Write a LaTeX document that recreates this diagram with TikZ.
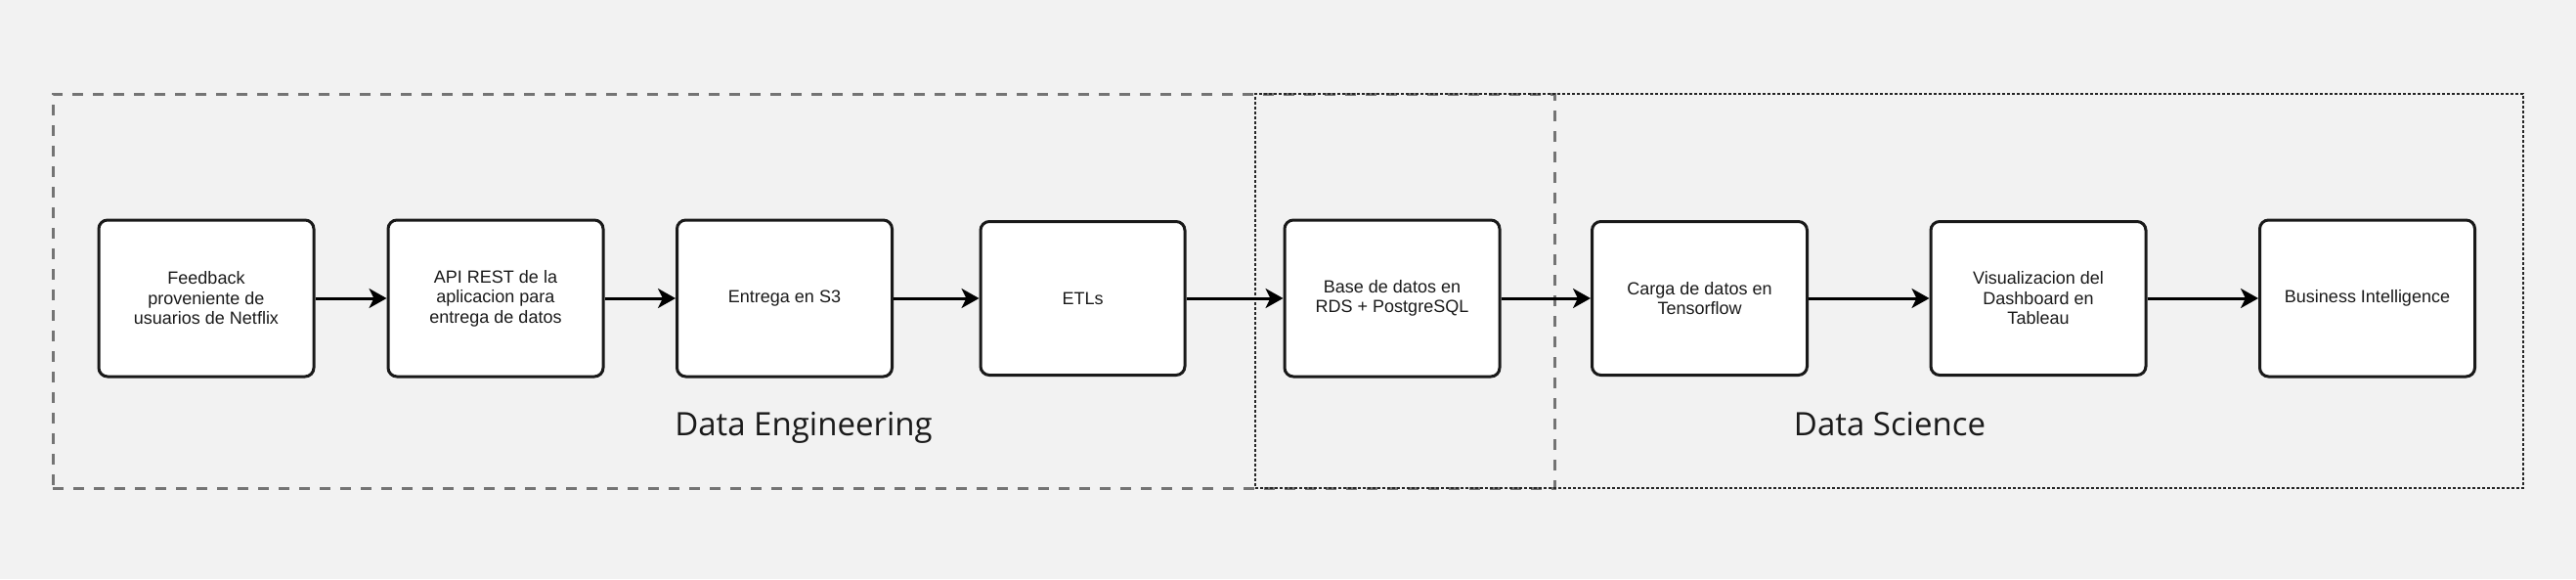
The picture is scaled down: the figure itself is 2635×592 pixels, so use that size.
\documentclass[tikz,border=0pt]{standalone}
\usepackage{fontspec}
\setmainfont{Liberation Sans}
\newfontfamily\grouplabelfont{Open Sans}
\usetikzlibrary{arrows.meta}
\definecolor{bgcol}{HTML}{F2F2F2}
\definecolor{dashcol}{HTML}{747474}
\definecolor{txtcol}{HTML}{1A1A1A}
\tikzset{
  procbox/.style={draw=black!90, fill=white, line width=3pt, rounded corners=9pt,
    minimum width=220pt, minimum height=160pt, align=center, text=txtcol,
    font=\fontsize{18}{20.5}\selectfont, inner sep=4pt},
  dashgroup/.style={draw=dashcol, line width=3pt, dash pattern=on 11pt off 10pt, inner sep=0pt},
  dotgroup/.style={draw=black!85, line width=2.6pt, dash pattern=on 2.6pt off 2.4pt, inner sep=0pt},
  grouplabel/.style={text=txtcol, anchor=base, font=\grouplabelfont\fontsize{33}{40}\selectfont},
  flow/.style={line width=3pt, -{Stealth[length=18pt, width=20pt, inset=5pt]}},
}
\begin{document}
\begin{tikzpicture}[x=1pt,y=-1pt]
\fill[bgcol] (0,0) rectangle (2635,592);
\useasboundingbox (0,0) rectangle (2635,592);
% groups
\node[dashgroup, minimum width=1536pt, minimum height=403pt] (de) at (822,297.5) {};
\node[dotgroup, minimum width=1297pt, minimum height=403pt] (ds) at (1932.5,297.5) {};
\node[grouplabel] (delabel) at (822,445) {Data Engineering};
\node[grouplabel] (dslabel) at (1933,445) {Data Science};
% process boxes
\node[procbox] (b1) at (211,305) {Feedback\\proveniente de\\usuarios de Netflix};
\node[procbox] (b2) at (507,305) {API REST de la\\aplicacion para\\entrega de datos};
\node[procbox] (b3) at (802.5,305) {Entrega en S3};
\node[procbox, minimum width=209pt, minimum height=157pt] (b4) at (1107.5,305) {ETLs};
\node[procbox] (b5) at (1424,305) {Base de datos en\\RDS + PostgreSQL};
\node[procbox, minimum height=157pt] (b6) at (1738.5,305) {Carga de datos en\\Tensorflow};
\node[procbox, minimum height=157pt] (b7) at (2085,305) {Visualizacion del\\Dashboard en\\Tableau};
\node[procbox] (b8) at (2421.5,305) {Business Intelligence};
% connectors
\draw[flow] (b1) -- (b2);
\draw[flow] (b2) -- (b3);
\draw[flow] (b3) -- (b4);
\draw[flow] (b4) -- (b5);
\draw[flow] (b5) -- (b6);
\draw[flow] (b6) -- (b7);
\draw[flow] (b7) -- (b8);
\end{tikzpicture}
\end{document}
